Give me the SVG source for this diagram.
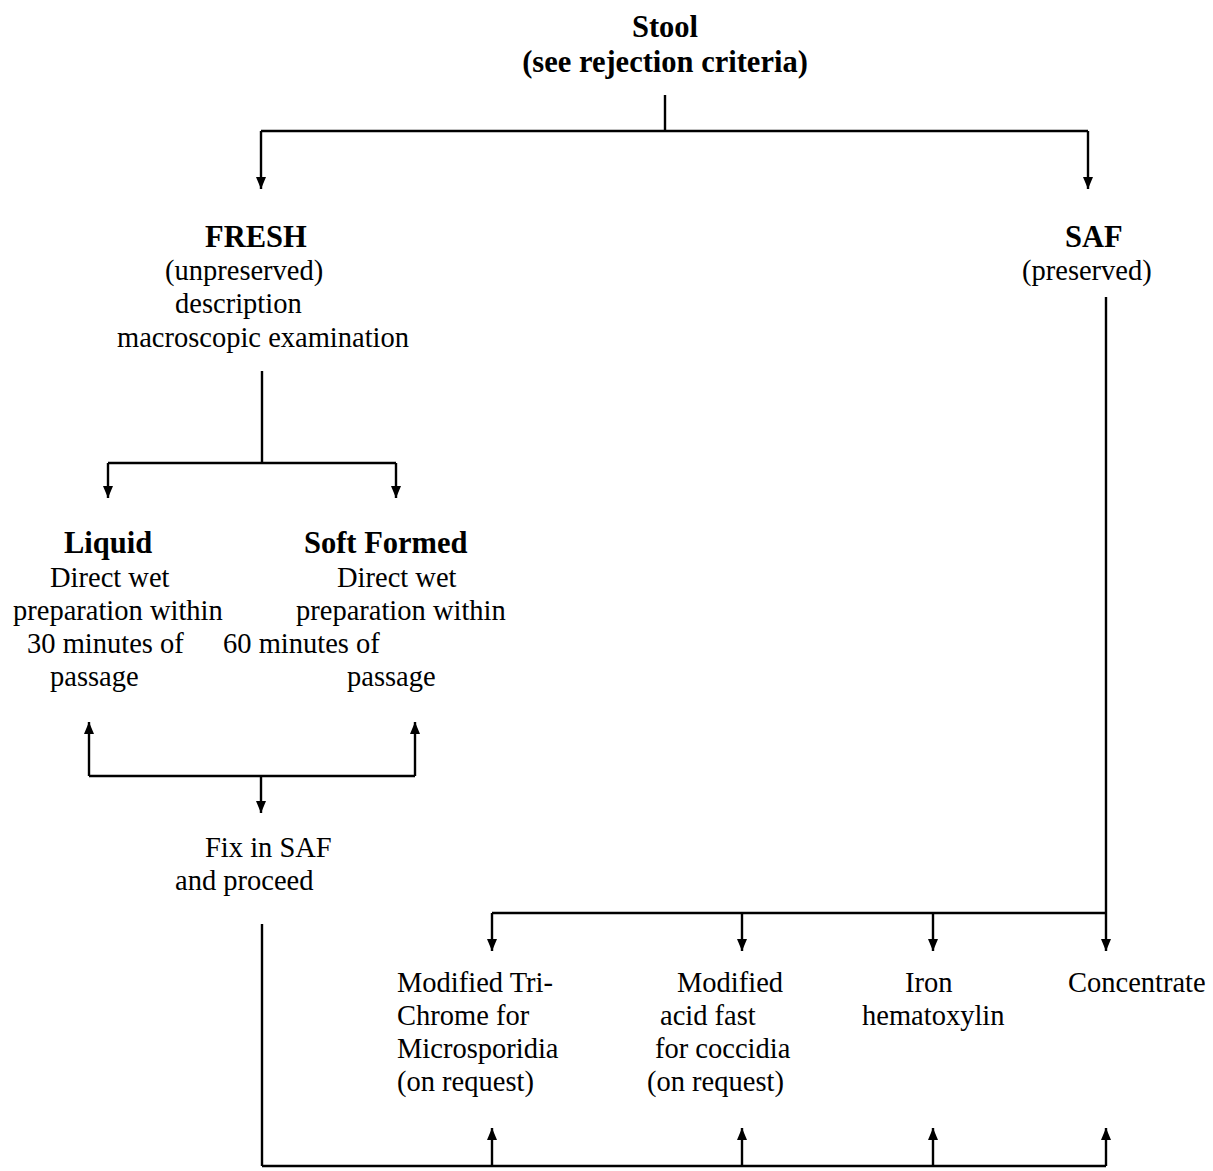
<svg xmlns="http://www.w3.org/2000/svg" width="1213" height="1171" viewBox="0 0 1213 1171">
<defs>
<marker id="ah" markerUnits="userSpaceOnUse" markerWidth="13" markerHeight="11" refX="12" refY="5.5" orient="auto" viewBox="0 0 13 11">
<path d="M0,0.5 L12,5.5 L0,10.5 z" fill="#000"/>
</marker>
<style>
text{font-family:"Liberation Serif","Times New Roman",serif;font-size:28.5px;fill:#000}
.b{font-weight:bold;font-size:30.5px}
.c{stroke:#000;stroke-width:2.4;fill:none}
.a{marker-end:url(#ah)}
</style>
</defs>
<rect width="1213" height="1171" fill="#fff"/>
<g id="connectors">
<path class="c" d="M665,95 V131 M261,131 H1088 M262,371 V463 M108,463 H396 M89,776 H415 M492,913 H1106 M262,924 V1166 M262,1166 H1106"/>
<path class="c a" d="M261,131 V189"/>
<path class="c a" d="M1088,131 V189"/>
<path class="c a" d="M108,463 V498"/>
<path class="c a" d="M396,463 V498"/>
<path class="c a" d="M89,776 V722"/>
<path class="c a" d="M415,776 V722"/>
<path class="c a" d="M261,776 V813"/>
<path class="c a" d="M1106,297 V951"/>
<path class="c a" d="M492,913 V951"/>
<path class="c a" d="M742,913 V951"/>
<path class="c a" d="M933,913 V951"/>
<path class="c a" d="M492,1166 V1128"/>
<path class="c a" d="M742,1166 V1128"/>
<path class="c a" d="M933,1166 V1128"/>
<path class="c a" d="M1106,1166 V1128"/>
</g>
<g id="stool">
<text class="b" x="665" y="37" text-anchor="middle">Stool</text>
<text class="b" x="665" y="72" text-anchor="middle">(see rejection criteria)</text>
</g>
<g id="fresh">
<text class="b" x="205" y="247">FRESH</text>
<text x="165" y="280">(unpreserved)</text>
<text x="175" y="313">description</text>
<text x="117" y="347">macroscopic examination</text>
</g>
<g id="saf">
<text class="b" x="1065" y="247">SAF</text>
<text x="1022" y="280">(preserved)</text>
</g>
<g id="liquid">
<text class="b" x="64" y="553">Liquid</text>
<text x="50" y="587">Direct wet</text>
<text x="13" y="620">preparation within</text>
<text x="27" y="653">30 minutes of</text>
<text x="50" y="686">passage</text>
</g>
<g id="soft-formed">
<text class="b" x="304" y="553">Soft Formed</text>
<text x="337" y="587">Direct wet</text>
<text x="296" y="620">preparation within</text>
<text x="223" y="653">60 minutes of</text>
<text x="347" y="686">passage</text>
</g>
<g id="fix">
<text x="205" y="857">Fix in SAF</text>
<text x="175" y="890">and proceed</text>
</g>
<g id="trichrome">
<text x="397" y="992">Modified Tri-</text>
<text x="397" y="1025">Chrome for</text>
<text x="397" y="1058">Microsporidia</text>
<text x="397" y="1091">(on request)</text>
</g>
<g id="acidfast">
<text x="677" y="992">Modified</text>
<text x="660" y="1025">acid fast</text>
<text x="655" y="1058">for coccidia</text>
<text x="647" y="1091">(on request)</text>
</g>
<g id="iron">
<text x="905" y="992">Iron</text>
<text x="862" y="1025">hematoxylin</text>
</g>
<g id="concentrate">
<text x="1068" y="992">Concentrate</text>
</g>
</svg>
